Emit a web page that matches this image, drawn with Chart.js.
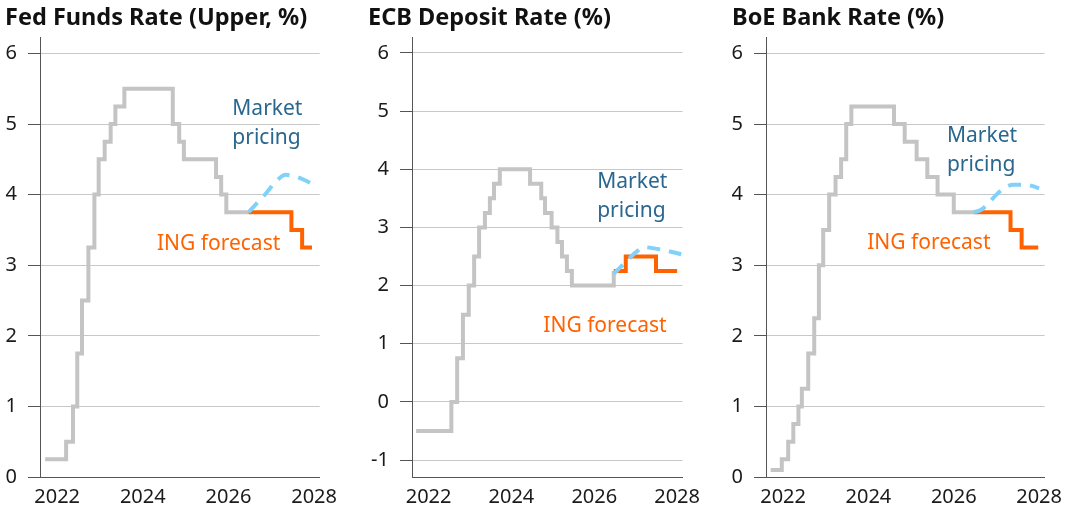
<!DOCTYPE html>
<html>
<head>
<meta charset="utf-8">
<script src="https://cdn.jsdelivr.net/npm/chart.js@4.4.1/dist/chart.umd.min.js"></script>
<style>
  body { margin: 0; background: #fff; overflow: hidden; }
  .panel { position: absolute; top: 0; height: 517px; }
</style>
</head>
<body>
<div class="panel" style="left:5px"><canvas id="fedChart" width="340" height="517"></canvas></div>
<div class="panel" style="left:368px"><canvas id="ecbChart" width="340" height="517"></canvas></div>
<div class="panel" style="left:732px"><canvas id="boeChart" width="338" height="517"></canvas></div>
<script>
// dates are decimal years, a point = date the rate changed and the new rate
var yearTicks = [2022, 2024, 2026, 2028];
var posTicks = [0, 1, 2, 3, 4, 5, 6];
var ecbTicks = [-1, 0, 1, 2, 3, 4, 5, 6];

// Fed funds upper bound
var fedDates = [2021.72, 2022.21, 2022.37, 2022.47, 2022.58, 2022.73, 2022.87, 2022.97, 2023.11, 2023.25, 2023.36, 2023.57, 2024.70, 2024.85, 2024.96, 2025.71, 2025.83, 2025.95, 2026.47];
var fedRate = [0.25, 0.5, 1.0, 1.75, 2.5, 3.25, 4.0, 4.5, 4.75, 5.0, 5.25, 5.5, 5.0, 4.75, 4.5, 4.25, 4.0, 3.75, 3.75];
var fedIngDates = [2026.47, 2027.47, 2027.72, 2027.95];
var fedIngRate = [3.75, 3.5, 3.25, 3.25];
var fedMktDates = [2026.47, 2026.65, 2026.88, 2027.1, 2027.34, 2027.6, 2027.8, 2028.0];
var fedMktRate = [3.75, 3.87, 4.02, 4.18, 4.28, 4.25, 4.2, 4.14];

// ECB deposit rate
var ecbDates = [2021.70, 2022.55, 2022.69, 2022.83, 2022.97, 2023.10, 2023.22, 2023.36, 2023.48, 2023.58, 2023.72, 2024.45, 2024.72, 2024.81, 2024.97, 2025.11, 2025.22, 2025.34, 2025.46, 2026.47];
var ecbRate = [-0.5, 0, 0.75, 1.5, 2.0, 2.5, 3.0, 3.25, 3.5, 3.75, 4.0, 3.75, 3.5, 3.25, 3.0, 2.75, 2.5, 2.25, 2.0, 2.25];
var ecbIngDates = [2026.47, 2026.76, 2027.49, 2028.0];
var ecbIngRate = [2.25, 2.5, 2.25, 2.25];
var ecbMktDates = [2026.47, 2026.65, 2026.82, 2027.0, 2027.2, 2027.45, 2027.75, 2028.1];
var ecbMktRate = [2.2, 2.33, 2.45, 2.57, 2.66, 2.64, 2.6, 2.54];

// BoE bank rate
var boeDates = [2021.71, 2021.97, 2022.12, 2022.24, 2022.36, 2022.44, 2022.59, 2022.73, 2022.84, 2022.94, 2023.08, 2023.23, 2023.36, 2023.48, 2023.60, 2024.60, 2024.85, 2025.13, 2025.38, 2025.62, 2026.0, 2026.47];
var boeRate = [0.1, 0.25, 0.5, 0.75, 1.0, 1.25, 1.75, 2.25, 3.0, 3.5, 4.0, 4.25, 4.5, 5.0, 5.25, 5.0, 4.75, 4.5, 4.25, 4.0, 3.75, 3.75];
var boeIngDates = [2026.47, 2027.33, 2027.59, 2027.98];
var boeIngRate = [3.75, 3.5, 3.25, 3.25];
var boeMktDates = [2026.47, 2026.65, 2026.8, 2027.0, 2027.2, 2027.4, 2027.65, 2027.85, 2028.0];
var boeMktRate = [3.75, 3.79, 3.87, 4.0, 4.1, 4.14, 4.14, 4.12, 4.09];

var GREY = '#c4c4c4';
var ORANGE = '#ff6200';
var LIGHTBLUE = '#80d2fa';
var TEAL = '#2a678f';

Chart.defaults.font.family = '"Noto Sans", sans-serif';
Chart.defaults.color = '#1a1a1a';

function makePoints(xs, ys) {
  var pts = [];
  for (var i = 0; i < xs.length; i++) {
    pts.push({x: xs[i], y: ys[i]});
  }
  return pts;
}

// text labels inside the plot ("Market pricing", "ING forecast")
var notesPlugin = {
  id: 'notes',
  afterDatasetsDraw: function(chart, args, opts) {
    var ctx = chart.ctx;
    var xs = chart.scales.x, ys = chart.scales.y;
    ctx.save();
    ctx.font = '21px "Noto Sans"';
    ctx.textBaseline = 'middle';
    ctx.textAlign = 'left';
    opts.items.forEach(function(n) {
      ctx.fillStyle = n.color;
      for (var i = 0; i < n.lines.length; i++) {
        ctx.fillText(n.lines[i], xs.getPixelForValue(n.x), ys.getPixelForValue(n.y) + i * 28.5);
      }
    });
    ctx.restore();
  }
};

function makePanel(id, p) {
  var ctx = document.getElementById(id);
  return new Chart(ctx, {
    type: 'line',
    data: {
      datasets: [{
        data: makePoints(p.mktDates, p.mktRate),
        borderColor: LIGHTBLUE,
        borderWidth: 4,
        borderDash: [13, 9],
        cubicInterpolationMode: 'monotone',
        pointRadius: 0,
        order: 0
      }, {
        data: makePoints(p.ingDates, p.ingRate),
        borderColor: ORANGE,
        borderWidth: 4,
        stepped: true,
        pointRadius: 0,
        order: 1
      }, {
        data: makePoints(p.dates, p.rate),
        borderColor: GREY,
        borderWidth: 4,
        stepped: true,
        pointRadius: 0,
        order: 2
      }]
    },
    options: {
      responsive: false,
      animation: false,
      layout: { padding: 0 },
      plugins: {
        legend: { display: false },
        tooltip: { enabled: false },
        title: {
          display: true,
          text: p.title,
          align: 'start',
          color: '#111',
          font: { size: 23.5, weight: 'bold' },
          padding: { top: 4, bottom: 5 }
        },
        notes: { items: p.notes }
      },
      scales: {
        x: {
          type: 'linear',
          min: 2021.6,
          max: 2028.13,
          afterBuildTicks: function(s) {
            s.ticks = yearTicks.map(function(v) { return {value: v}; });
          },
          ticks: {
            font: { size: 20 },
            padding: 8,
            maxRotation: 0,
            callback: function(v) { return String(v); }
          },
          grid: { display: false, drawTicks: false },
          border: { display: true, color: '#555', width: 1 }
        },
        y: {
          min: p.yMin,
          max: p.yMax,
          afterBuildTicks: function(s) {
            s.ticks = p.yTicks.map(function(v) { return {value: v}; });
          },
          afterFit: function(s) { s.width = p.axisW; },
          ticks: {
            font: { size: 20 },
            padding: 11
          },
          grid: {
            color: '#c8c8c8',
            lineWidth: 1,
            tickLength: 12,
            tickColor: '#555'
          },
          border: { display: true, color: '#555', width: 1 }
        }
      }
    },
    plugins: [notesPlugin]
  });
}

makePanel('fedChart', {
  title: 'Fed Funds Rate (Upper, %)',
  dates: fedDates, rate: fedRate,
  ingDates: fedIngDates, ingRate: fedIngRate,
  mktDates: fedMktDates, mktRate: fedMktRate,
  yMin: 0, yMax: 6.23, yTicks: posTicks, axisW: 35,
  notes: [
    { lines: ['Market', 'pricing'], x: 2026.09, y: 5.21, color: TEAL },
    { lines: ['ING forecast'], x: 2024.33, y: 3.3, color: ORANGE }
  ]
});

makePanel('ecbChart', {
  title: 'ECB Deposit Rate (%)',
  dates: ecbDates, rate: ecbRate,
  ingDates: ecbIngDates, ingRate: ecbIngRate,
  mktDates: ecbMktDates, mktRate: ecbMktRate,
  yMin: -1.29, yMax: 6.27, yTicks: ecbTicks, axisW: 44,
  notes: [
    { lines: ['Market', 'pricing'], x: 2026.07, y: 3.78, color: TEAL },
    { lines: ['ING forecast'], x: 2024.77, y: 1.31, color: ORANGE }
  ]
});

makePanel('boeChart', {
  title: 'BoE Bank Rate (%)',
  dates: boeDates, rate: boeRate,
  ingDates: boeIngDates, ingRate: boeIngRate,
  mktDates: boeMktDates, mktRate: boeMktRate,
  yMin: 0, yMax: 6.23, yTicks: posTicks, axisW: 34,
  notes: [
    { lines: ['Market', 'pricing'], x: 2025.84, y: 4.83, color: TEAL },
    { lines: ['ING forecast'], x: 2023.97, y: 3.31, color: ORANGE }
  ]
});
</script>
</body>
</html>
